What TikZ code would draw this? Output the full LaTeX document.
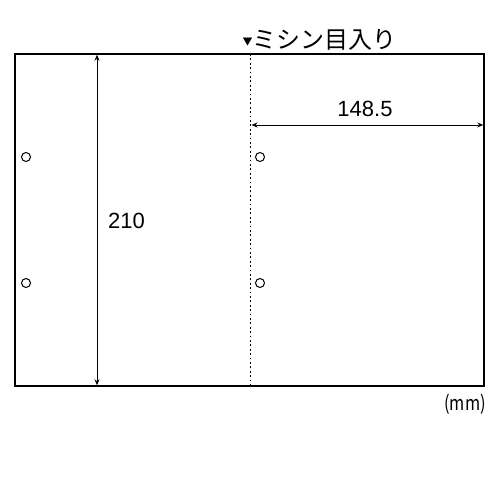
\documentclass[tikz,border=0pt]{standalone}
\usepackage{fontspec}
\setmainfont{Liberation Sans}
\newfontfamily\jpfont{Noto Sans CJK JP}
\usetikzlibrary{arrows.meta}
\tikzset{
  frame/.style={line width=1.3pt},
  dim/.style={line width=1pt, {Stealth[length=6pt,width=5pt]}-{Stealth[length=6pt,width=5pt]}},
  perf/.style={line width=1.6pt, dash pattern=on 1.8pt off 2.6pt},
  hole/.style={circle, draw, line width=1pt, minimum size=9pt, inner sep=0pt},
  lbl/.style={font=\fontsize{22}{24}\selectfont, inner sep=0pt}
}
\begin{document}
\begin{tikzpicture}[x=1pt,y=-1pt]
\useasboundingbox (0,0) rectangle (500,500);
\fill[white] (0,0) rectangle (500,500);
\coordinate (tl) at (15,54);
\coordinate (br) at (484,386);
\draw[frame] (tl) rectangle (br);
% perforation
\coordinate (pt) at (250.5,54);
\coordinate (pb) at (250.5,386);
\draw[perf] (pt) -- (pb);
% vertical dimension
\coordinate (vt) at (97,54.7);
\coordinate (vb) at (97,385.3);
\draw[dim] (vt) -- (vb);
\node[lbl] (h) at (126.5,220.5) {210};
% horizontal dimension
\coordinate (hl) at (251.5,125);
\coordinate (hr) at (483.3,125);
\draw[dim] (hl) -- (hr);
\node[lbl] (w) at (365,109) {148.5};
% holes
\node[hole] (h1) at (26,157) {};
\node[hole] (h2) at (26,283) {};
\node[hole] (h3) at (260,157) {};
\node[hole] (h4) at (260,283) {};
% top label
\node[inner sep=0pt, font=\jpfont\fontsize{10}{10}\selectfont] (tri) at (247.5,42.3) {▼};
\node[inner sep=0pt, anchor=west, font=\jpfont\fontsize{24}{26}\selectfont] (perfl) at (252.5,40) {ミシン目入り};
% unit
\node[inner sep=0pt, xscale=0.82, font=\jpfont\fontsize{20}{22}\selectfont] (mm) at (465,404) {(mm)};
\end{tikzpicture}
\end{document}
